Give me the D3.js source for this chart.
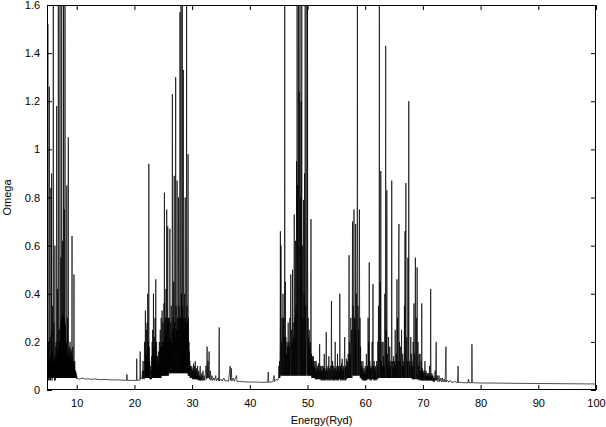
<!DOCTYPE html>
<html>
<head>
<meta charset="utf-8">
<script src="https://cdn.jsdelivr.net/npm/d3@7"></script>
<style>
  html, body { margin: 0; padding: 0; background: #fff; }
  svg { display: block; }
  text { font-family: "Liberation Sans", Arial, Helvetica, sans-serif; font-size: 11px; fill: #000; }
</style>
</head>
<body>
<svg id="chart" width="606" height="427"></svg>
<script>
// ---------------- DATA (Energy in Ryd, Omega) ----------------
const xTicks = [10, 20, 30, 40, 50, 60, 70, 80, 90, 100];
const yTicks = [0, 0.2, 0.4, 0.6, 0.8, 1.0, 1.2, 1.4, 1.6];
const xTitle = "Energy(Ryd)";
const yTitle = "Omega";

// resonance region below 10 Ryd  [energy, omega]
const regionA = [[4.85,0.05],[4.88,0.1],[4.91,0.04],[4.95,0.08],[4.98,0.05],[5.0,1.52],[5.02,0.05],[5.06,0.12],[5.09,0.04],[5.12,0.2],[5.15,0.05],[5.18,0.1],[5.21,0.05],[5.25,1.26],[5.28,0.05],[5.31,0.12],[5.34,0.04],[5.37,0.22],[5.4,0.05],[5.43,0.1],[5.46,0.04],[5.49,0.14],[5.51,0.05],[5.52,0.84],[5.54,0.05],[5.57,0.12],[5.6,0.05],[5.62,0.25],[5.64,0.05],[5.65,0.9],[5.67,0.05],[5.7,0.12],[5.73,0.04],[5.76,0.16],[5.79,0.05],[5.83,0.35],[5.86,0.05],[5.9,0.1],[5.92,0.05],[5.94,1.8],[5.96,0.05],[6.0,0.12],[6.03,0.05],[6.06,0.28],[6.09,0.05],[6.12,0.1],[6.15,0.04],[6.18,0.14],[6.2,0.05],[6.22,0.6],[6.24,0.05],[6.27,0.11],[6.3,0.04],[6.33,0.13],[6.36,0.05],[6.38,0.18],[6.41,0.05],[6.44,0.2],[6.47,0.05],[6.5,0.12],[6.52,0.05],[6.53,1.18],[6.55,0.05],[6.58,0.13],[6.61,0.05],[6.64,0.1],[6.66,0.05],[6.68,0.42],[6.7,0.05],[6.73,0.15],[6.76,0.05],[6.79,0.12],[6.8,0.05],[6.81,1.8],[6.83,0.05],[6.86,0.17],[6.89,0.05],[6.92,0.14],[6.95,0.25],[6.97,0.05],[7.0,0.2],[7.03,0.05],[7.06,0.18],[7.08,0.05],[7.1,1.8],[7.12,0.05],[7.15,0.26],[7.18,0.05],[7.21,0.22],[7.24,0.06],[7.25,0.55],[7.27,0.05],[7.3,0.28],[7.33,0.06],[7.36,0.3],[7.38,0.05],[7.4,1.8],[7.42,0.06],[7.45,0.3],[7.48,0.05],[7.51,0.27],[7.53,0.06],[7.55,0.62],[7.57,0.05],[7.6,0.32],[7.63,0.06],[7.66,0.28],[7.69,0.05],[7.71,1.8],[7.73,0.06],[7.76,0.3],[7.79,0.05],[7.82,0.26],[7.84,0.06],[7.85,0.75],[7.87,0.05],[7.9,0.3],[7.93,0.05],[7.95,0.28],[7.96,0.06],[7.97,1.8],[7.99,0.05],[8.02,0.27],[8.05,0.05],[8.08,0.22],[8.11,0.05],[8.14,0.18],[8.17,0.05],[8.2,0.2],[8.23,0.05],[8.26,0.14],[8.28,0.85],[8.3,0.05],[8.33,0.15],[8.36,0.05],[8.39,0.17],[8.42,0.3],[8.44,0.05],[8.47,0.14],[8.5,0.05],[8.52,0.12],[8.54,1.05],[8.56,0.05],[8.6,0.16],[8.63,0.05],[8.66,0.12],[8.69,0.05],[8.72,0.18],[8.75,0.05],[8.78,0.14],[8.81,0.05],[8.85,0.2],[8.88,0.05],[8.91,0.13],[8.94,0.05],[8.97,0.17],[9.0,0.05],[9.03,0.12],[9.06,0.05],[9.1,0.16],[9.13,0.05],[9.16,0.12],[9.19,0.64],[9.21,0.05],[9.25,0.14],[9.28,0.05],[9.32,0.18],[9.35,0.05],[9.38,0.1],[9.41,0.05],[9.45,0.12],[9.48,0.05],[9.51,0.1],[9.53,0.48],[9.55,0.05],[9.59,0.1],[9.62,0.05],[9.66,0.12],[9.7,0.05],[9.74,0.08],[9.78,0.05],[9.82,0.08],[9.86,0.05],[9.9,0.07],[9.95,0.048],[10.0,0.06],[10.05,0.047]];

// background 10 - 21 Ryd
const regionFlat1 = [[10.5,0.046],[11.0,0.05],[11.5,0.045],[12.0,0.047],[12.5,0.044],[13.0,0.046],[14.0,0.043],[15.0,0.044],[16.0,0.042],[17.0,0.042],[18.0,0.041],[18.6,0.04],[18.7,0.065],[18.8,0.04],[19.5,0.04],[20.0,0.04],[20.35,0.04],[20.4,0.13],[20.45,0.04],[20.95,0.042],[21.0,0.16],[21.05,0.045]];

// resonance region 21 - 30 Ryd
const regionB = [[21.3,0.05],[21.4,0.08],[21.45,0.045],[21.5,0.12],[21.55,0.05],[21.62,0.08],[21.68,0.045],[21.75,0.2],[21.8,0.05],[21.85,0.12],[21.88,0.05],[21.9,0.33],[21.93,0.05],[21.97,0.15],[22.0,0.05],[22.05,0.25],[22.08,0.05],[22.12,0.14],[22.15,0.05],[22.2,0.28],[22.23,0.05],[22.27,0.18],[22.28,0.05],[22.3,0.40],[22.33,0.05],[22.37,0.16],[22.4,0.05],[22.43,0.2],[22.46,0.05],[22.5,0.94],[22.53,0.05],[22.57,0.18],[22.6,0.05],[22.64,0.12],[22.68,0.045],[22.75,0.1],[22.8,0.045],[22.88,0.08],[22.94,0.045],[23.0,0.14],[23.04,0.05],[23.08,0.2],[23.12,0.05],[23.16,0.25],[23.2,0.05],[23.24,0.16],[23.27,0.05],[23.3,0.40],[23.33,0.05],[23.37,0.18],[23.4,0.05],[23.44,0.22],[23.48,0.05],[23.52,0.15],[23.55,0.05],[23.58,0.3],[23.62,0.05],[23.66,0.2],[23.68,0.05],[23.7,0.46],[23.73,0.05],[23.77,0.14],[23.8,0.05],[23.84,0.2],[23.88,0.05],[23.92,0.12],[23.96,0.05],[24.0,0.14],[24.04,0.05],[24.08,0.1],[24.12,0.05],[24.16,0.16],[24.2,0.05],[24.24,0.12],[24.28,0.05],[24.32,0.2],[24.36,0.05],[24.4,0.16],[24.44,0.05],[24.48,0.25],[24.52,0.05],[24.56,0.18],[24.6,0.05],[24.64,0.3],[24.68,0.06],[24.72,0.2],[24.76,0.06],[24.8,0.33],[24.84,0.06],[24.88,0.18],[24.92,0.06],[24.96,0.28],[25.0,0.06],[25.04,0.2],[25.08,0.06],[25.12,0.36],[25.16,0.06],[25.2,0.82],[25.23,0.06],[25.27,0.22],[25.31,0.06],[25.35,0.3],[25.39,0.06],[25.43,0.2],[25.47,0.42],[25.5,0.06],[25.54,0.25],[25.57,0.06],[25.6,0.75],[25.63,0.06],[25.67,0.3],[25.71,0.06],[25.75,0.35],[25.78,0.68],[25.81,0.06],[25.85,0.28],[25.89,0.06],[25.93,0.3],[25.97,0.07],[26.01,0.3],[26.05,0.07],[26.09,0.2],[26.12,0.07],[26.15,0.67],[26.18,0.07],[26.22,0.22],[26.26,0.07],[26.3,0.28],[26.34,0.07],[26.38,0.35],[26.42,0.07],[26.46,0.2],[26.5,0.07],[26.54,0.4],[26.58,1.23],[26.61,0.07],[26.65,0.25],[26.69,0.07],[26.73,0.3],[26.77,0.07],[26.81,0.45],[26.85,0.07],[26.9,0.89],[26.93,0.07],[26.97,0.28],[27.01,0.07],[27.05,0.22],[27.09,0.07],[27.13,0.32],[27.15,1.30],[27.18,0.07],[27.22,0.35],[27.26,0.07],[27.3,0.25],[27.34,0.07],[27.4,0.87],[27.43,0.07],[27.47,0.3],[27.51,0.07],[27.55,0.25],[27.59,0.07],[27.65,0.8],[27.68,0.07],[27.72,0.35],[27.76,0.07],[27.8,0.3],[27.84,0.07],[27.9,1.57],[27.93,0.07],[27.97,0.3],[28.01,0.07],[28.05,0.26],[28.08,1.8],[28.11,0.07],[28.15,0.4],[28.19,0.07],[28.23,0.3],[28.27,0.07],[28.3,1.8],[28.33,0.07],[28.37,0.35],[28.41,0.07],[28.45,0.28],[28.48,1.33],[28.51,0.07],[28.55,0.3],[28.59,0.07],[28.63,0.28],[28.67,0.07],[28.71,0.4],[28.75,0.07],[28.8,0.8],[28.83,0.07],[28.87,0.3],[28.91,0.07],[28.95,0.28],[28.99,0.07],[29.05,1.8],[29.08,0.07],[29.12,0.35],[29.16,0.07],[29.2,0.28],[29.24,0.07],[29.3,0.98],[29.33,0.06],[29.37,0.3],[29.41,0.06],[29.45,0.2],[29.49,0.06],[29.53,0.16],[29.57,0.06],[29.61,0.12],[29.66,0.05],[29.71,0.1],[29.76,0.05],[29.82,0.09],[29.88,0.05],[29.94,0.1],[30.0,0.05],[30.05,0.08]];

// weak structure 30 - 45 Ryd
const regionFlat2 = [[30.1,0.045],[30.15,0.09],[30.2,0.045],[30.25,0.11],[30.3,0.045],[30.35,0.08],[30.4,0.045],[30.45,0.1],[30.5,0.045],[30.55,0.12],[30.6,0.045],[30.65,0.08],[30.7,0.045],[30.75,0.09],[30.8,0.045],[30.85,0.07],[30.9,0.045],[30.95,0.1],[31.0,0.042],[31.05,0.07],[31.1,0.042],[31.15,0.08],[31.2,0.04],[31.27,0.06],[31.33,0.04],[31.4,0.1],[31.46,0.04],[31.55,0.06],[31.62,0.04],[31.7,0.07],[31.78,0.04],[31.88,0.08],[31.95,0.04],[32.1,0.06],[32.2,0.04],[32.4,0.1],[32.5,0.045],[32.6,0.18],[32.66,0.05],[32.75,0.12],[32.82,0.05],[32.95,0.16],[33.02,0.045],[33.15,0.08],[33.25,0.04],[33.45,0.06],[33.55,0.04],[33.75,0.05],[33.9,0.04],[34.1,0.06],[34.2,0.038],[34.5,0.05],[34.6,0.038],[34.7,0.26],[34.76,0.038],[35.0,0.045],[35.2,0.037],[35.5,0.05],[35.7,0.037],[36.0,0.04],[36.3,0.036],[36.6,0.1],[36.68,0.04],[36.8,0.09],[36.88,0.038],[37.1,0.05],[37.3,0.036],[37.7,0.06],[37.78,0.036],[38.2,0.035],[39.0,0.034],[40.0,0.033],[41.0,0.033],[42.0,0.032],[43.1,0.032],[43.2,0.075],[43.28,0.032],[44.0,0.034],[44.2,0.06],[44.3,0.035],[44.6,0.045],[44.8,0.04]];

// resonance region 45 - 72 Ryd, sampled every 0.05 Ryd (one row per Ryd)
const gridCStart = 45.0;
const gridCStep = 0.05;
const omegaC = [
  0.05,0.1,0.05,0.12,0.05,0.2,0.66,0.06,0.6,0.06,0.2,0.06,0.3,0.06,0.18,0.4,0.06,0.3,0.06,0.22,          // 45
  0.06,1.8,0.06,0.45,0.06,0.22,0.06,0.15,0.06,0.2,0.06,0.18,0.06,0.28,0.06,0.2,0.06,0.18,0.06,0.3,       // 46
  0.06,0.22,0.48,0.06,0.25,0.06,0.2,0.06,0.5,0.06,0.28,0.06,0.22,0.06,0.73,0.06,0.3,0.06,0.62,0.06,      // 47
  0.35,0.06,0.95,0.06,1.8,0.06,0.85,0.06,0.3,1.8,0.06,1.24,0.06,0.35,1.8,0.06,0.8,0.06,1.2,0.06,         // 48
  1.8,0.06,0.6,0.06,0.3,0.06,0.79,0.06,0.4,0.06,0.9,0.06,1.8,0.06,0.35,0.06,0.28,0.6,1.8,0.06,           // 49
  1.8,0.06,0.3,0.06,0.22,0.06,0.25,0.06,0.18,0.06,0.2,0.06,0.71,0.06,0.15,0.05,0.12,0.05,0.14,0.05,      // 50
  0.14,0.05,0.12,0.05,0.1,0.05,0.12,0.045,0.09,0.045,0.12,0.045,0.08,0.045,0.1,0.045,0.09,0.045,0.11,0.045, // 51
  0.08,0.045,0.19,0.045,0.09,0.045,0.1,0.04,0.08,0.045,0.1,0.04,0.08,0.045,0.1,0.04,0.09,0.045,0.15,0.04,  // 52
  0.09,0.045,0.08,0.04,0.1,0.24,0.045,0.09,0.04,0.08,0.045,0.1,0.04,0.08,0.14,0.045,0.09,0.04,0.08,0.045,  // 53
  0.1,0.04,0.09,0.37,0.045,0.1,0.04,0.12,0.045,0.08,0.04,0.1,0.045,0.09,0.04,0.1,0.2,0.045,0.09,0.04,      // 54
  0.08,0.045,0.1,0.04,0.15,0.045,0.09,0.04,0.1,0.045,0.08,0.045,0.4,0.045,0.1,0.04,0.09,0.045,0.11,0.04,   // 55
  0.13,0.045,0.08,0.04,0.1,0.045,0.09,0.04,0.14,0.22,0.045,0.1,0.04,0.09,0.045,0.13,0.045,0.1,0.05,0.12,   // 56
  0.05,0.15,0.05,0.12,0.56,0.05,0.2,0.05,0.15,0.05,0.3,0.05,0.18,0.25,0.05,0.2,0.70,0.06,0.35,0.06,        // 57
  0.2,0.75,0.06,0.3,0.06,0.25,0.06,0.69,0.06,0.4,0.06,0.3,0.5,1.8,0.06,0.35,0.06,0.25,0.06,0.5,           // 58
  0.75,0.06,0.3,0.05,0.18,0.05,0.12,0.045,0.1,0.045,0.09,0.04,0.12,0.045,0.08,0.04,0.09,0.04,0.07,0.04,    // 59
  0.1,0.04,0.08,0.045,0.15,0.04,0.09,0.045,0.1,0.045,0.3,0.045,0.2,0.05,0.53,0.045,0.12,0.04,0.09,0.045,   // 60
  0.1,0.04,0.09,0.045,0.2,0.045,0.12,0.44,0.045,0.1,0.04,0.12,0.045,0.09,0.04,0.1,0.045,0.08,0.04,0.09,    // 61
  0.12,0.045,0.1,0.045,0.2,0.05,0.35,0.05,0.12,1.8,0.05,0.2,0.45,0.05,0.91,0.05,0.12,0.05,0.2,0.05,       // 62
  0.1,0.05,0.2,0.05,0.14,0.05,0.1,0.05,0.4,0.05,0.12,1.43,0.05,0.25,0.05,0.83,0.05,0.15,0.05,0.1,         // 63
  0.05,0.22,0.05,0.12,0.05,0.18,0.05,0.1,0.05,0.12,0.05,0.2,0.87,0.05,0.12,0.05,0.09,0.05,0.14,0.05,       // 64
  0.1,0.05,0.12,0.05,0.25,0.05,0.1,0.05,0.15,0.05,0.46,0.05,0.3,0.05,0.12,0.05,0.61,0.69,0.05,0.2,        // 65
  0.05,0.12,0.05,0.18,0.05,0.1,0.25,0.05,0.1,0.05,0.15,0.05,0.12,0.05,0.1,0.05,0.35,0.05,0.66,0.05,       // 66
  0.2,0.86,0.05,0.1,0.22,0.05,0.12,0.05,0.55,0.05,0.15,1.2,0.05,0.12,0.05,0.1,0.05,0.12,0.22,0.05,        // 67
  0.15,0.05,0.12,0.045,0.1,0.045,0.2,0.045,0.12,0.36,0.045,0.15,0.045,0.25,0.55,0.045,0.12,0.3,0.045,0.12, // 68
  0.51,0.045,0.12,0.2,0.045,0.1,0.04,0.15,0.045,0.09,0.15,0.04,0.08,0.045,0.12,0.04,0.36,0.04,0.09,0.04,   // 69
  0.08,0.04,0.07,0.04,0.08,0.04,0.07,0.12,0.04,0.07,0.04,0.08,0.04,0.06,0.04,0.07,0.04,0.06,0.04,0.07,     // 70
  0.04,0.06,0.04,0.1,0.04,0.06,0.04,0.42,0.04,0.06,0.04,0.07,0.04,0.06,0.04,0.06,0.035,0.05,0.035,0.05,   // 71
  0.035                                                                                                    // 72
];

// high-energy tail 72 - 100 Ryd
const regionTail = [[72.1,0.08],[72.2,0.04],[72.3,0.2],[72.36,0.04],[72.5,0.06],[72.6,0.035],[72.8,0.06],[72.9,0.035],[73.1,0.05],[73.2,0.034],[73.4,0.05],[73.5,0.033],[73.7,0.045],[73.85,0.033],[74.0,0.18],[74.06,0.033],[74.3,0.04],[74.5,0.032],[74.8,0.04],[75.0,0.031],[75.5,0.035],[76.0,0.031],[76.1,0.1],[76.16,0.031],[76.6,0.032],[77.0,0.03],[77.8,0.03],[77.9,0.045],[77.96,0.03],[78.45,0.03],[78.5,0.19],[78.56,0.03],[79.0,0.03],[80.0,0.029],[82.0,0.029],[85.0,0.028],[90.0,0.027],[95.0,0.026],[100.0,0.025]];

// ---------------- DRAWING ----------------
const svg = d3.select("#chart");
const L = 47, R = 596, T = 5, B = 390;
const x = d3.scaleLinear().domain([4.85, 100]).range([L, R]);
const y = d3.scaleLinear().domain([0, 1.6]).range([B, T]);

svg.append("defs").append("clipPath").attr("id", "plotclip")
  .append("rect").attr("x", L).attr("y", T).attr("width", R - L).attr("height", B - T);

const regionC = omegaC.map((w, i) => [gridCStart + i * gridCStep, w]);
const curve = [].concat(regionA, regionFlat1, regionB, regionFlat2, regionC, regionTail);

const line = d3.line().x(d => x(d[0])).y(d => y(d[1]));
svg.append("g").attr("clip-path", "url(#plotclip)")
  .append("path")
  .datum(curve)
  .attr("d", line)
  .attr("fill", "none")
  .attr("stroke", "#000")
  .attr("stroke-width", 0.7)
  .attr("stroke-linejoin", "miter");

const fmt = d => String(+d.toFixed(1));

const gx = svg.append("g").attr("transform", `translate(0,${B})`)
  .call(d3.axisBottom(x).tickValues(xTicks).tickSizeInner(-5).tickSizeOuter(0).tickPadding(9).tickFormat(fmt));
const gxt = svg.append("g").attr("transform", `translate(0,${T})`)
  .call(d3.axisTop(x).tickValues(xTicks).tickSizeInner(-5).tickSizeOuter(0).tickFormat(""));
const gy = svg.append("g").attr("transform", `translate(${L},0)`)
  .call(d3.axisLeft(y).tickValues(yTicks).tickSizeInner(-5).tickSizeOuter(0).tickPadding(7).tickFormat(fmt));
const gyr = svg.append("g").attr("transform", `translate(${R},0)`)
  .call(d3.axisRight(y).tickValues(yTicks).tickSizeInner(-5).tickSizeOuter(0).tickFormat(""));

[gx, gxt, gy, gyr].forEach(g => {
  g.select(".domain").remove();
  g.selectAll("line").attr("stroke", "#000");
  g.selectAll("text").attr("font-family", null).attr("font-size", null).attr("fill", "#000");
});

svg.append("rect").attr("x", L + 0.5).attr("y", T + 0.5)
  .attr("width", R - L - 1).attr("height", B - T - 1)
  .attr("fill", "none").attr("stroke", "#000").attr("stroke-width", 1);

svg.append("text").attr("x", (L + R) / 2).attr("y", 424)
  .attr("text-anchor", "middle").text(xTitle);
svg.append("text")
  .attr("transform", `translate(11,${(T + B) / 2}) rotate(-90)`)
  .attr("text-anchor", "middle").text(yTitle);
</script>
</body>
</html>
